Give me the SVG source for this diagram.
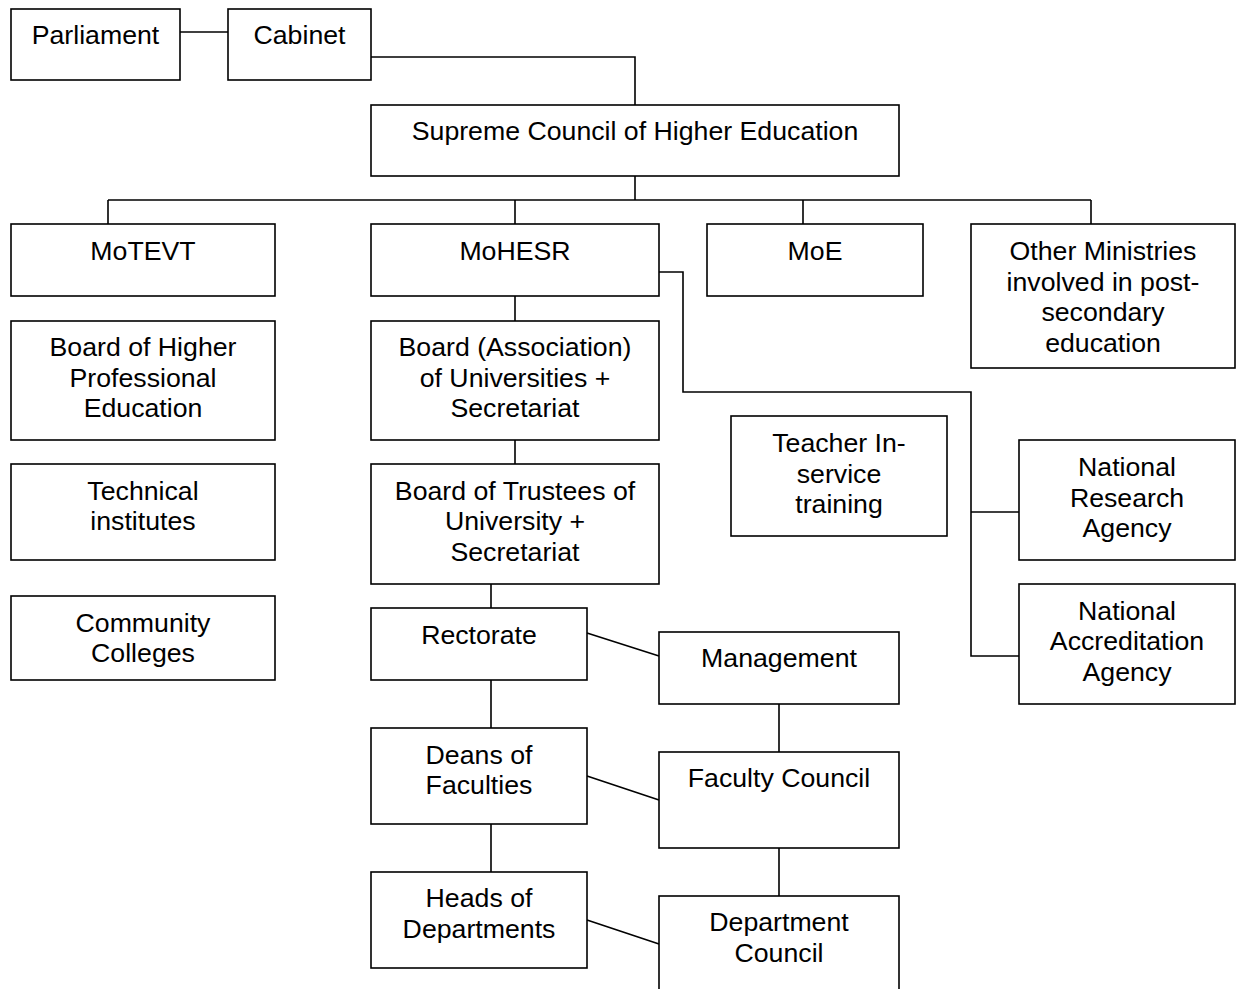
<svg xmlns="http://www.w3.org/2000/svg" width="1237" height="989" viewBox="0 0 1237 989">
<style>
rect{fill:#fff;stroke:#000;stroke-width:1.6}
.c{fill:none;stroke:#000;stroke-width:1.6}
text{font-family:"Liberation Sans",Arial,sans-serif;font-size:26.7px;fill:#000;text-anchor:middle}
</style>
<rect x="0" y="0" width="1237" height="989" style="stroke:none"/>
<g id="connectors" class="c">
<path class="c" d="M180 32H228"/>
<path class="c" d="M371 57H635V105"/>
<path class="c" d="M635 176V200M108 200H1091M108 200V224M515 200V224M803 200V224M1091 200V224"/>
<path class="c" d="M515 296V321M515 440V464M491 584V608M491 680V728M491 824V872"/>
<path class="c" d="M779 704V752M779 848V896"/>
<path class="c" d="M587 633L659 656M587 776L659 800M587 920L659 944"/>
<path class="c" d="M659 272H683V392H971V656H1019M971 512H1019"/>
</g>
<g id="parliament"><rect x="11" y="9" width="169" height="71"/><text x="95.5" y="44">Parliament</text></g>
<g id="cabinet"><rect x="228" y="9" width="143" height="71"/><text x="299.5" y="44">Cabinet</text></g>
<g id="supreme"><rect x="371" y="105" width="528" height="71"/><text x="635" y="140">Supreme Council of Higher Education</text></g>
<g id="motevt"><rect x="11" y="224" width="264" height="72"/><text x="143" y="260">MoTEVT</text></g>
<g id="mohesr"><rect x="371" y="224" width="288" height="72"/><text x="515" y="260">MoHESR</text></g>
<g id="moe"><rect x="707" y="224" width="216" height="72"/><text x="815" y="260">MoE</text></g>
<g id="other"><rect x="971" y="224" width="264" height="144"/><text x="1103" y="260">Other Ministries</text><text x="1103" y="291">involved in post-</text><text x="1103" y="321">secondary</text><text x="1103" y="352">education</text></g>
<g id="bhpe"><rect x="11" y="321" width="264" height="119"/><text x="143" y="356">Board of Higher</text><text x="143" y="387">Professional</text><text x="143" y="417">Education</text></g>
<g id="tech"><rect x="11" y="464" width="264" height="96"/><text x="143" y="500">Technical</text><text x="143" y="530">institutes</text></g>
<g id="community"><rect x="11" y="596" width="264" height="84"/><text x="143" y="632">Community</text><text x="143" y="662">Colleges</text></g>
<g id="boardassoc"><rect x="371" y="321" width="288" height="119"/><text x="515" y="356">Board (Association)</text><text x="515" y="387">of Universities +</text><text x="515" y="417">Secretariat</text></g>
<g id="trustees"><rect x="371" y="464" width="288" height="120"/><text x="515" y="500">Board of Trustees of</text><text x="515" y="530">University +</text><text x="515" y="561">Secretariat</text></g>
<g id="teacher"><rect x="731" y="416" width="216" height="120"/><text x="839" y="452">Teacher In-</text><text x="839" y="483">service</text><text x="839" y="513">training</text></g>
<g id="research"><rect x="1019" y="440" width="216" height="120"/><text x="1127" y="476">National</text><text x="1127" y="507">Research</text><text x="1127" y="537">Agency</text></g>
<g id="accreditation"><rect x="1019" y="584" width="216" height="120"/><text x="1127" y="620">National</text><text x="1127" y="650">Accreditation</text><text x="1127" y="681">Agency</text></g>
<g id="rectorate"><rect x="371" y="608" width="216" height="72"/><text x="479" y="644">Rectorate</text></g>
<g id="management"><rect x="659" y="632" width="240" height="72"/><text x="779" y="667">Management</text></g>
<g id="deans"><rect x="371" y="728" width="216" height="96"/><text x="479" y="764">Deans of</text><text x="479" y="794">Faculties</text></g>
<g id="faculty"><rect x="659" y="752" width="240" height="96"/><text x="779" y="787">Faculty Council</text></g>
<g id="heads"><rect x="371" y="872" width="216" height="96"/><text x="479" y="907">Heads of</text><text x="479" y="938">Departments</text></g>
<g id="deptcouncil"><rect x="659" y="896" width="240" height="100"/><text x="779" y="931">Department</text><text x="779" y="962">Council</text></g>
</svg>
